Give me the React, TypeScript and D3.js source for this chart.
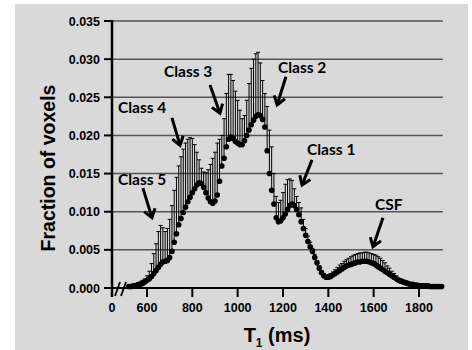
import React from "react";
import * as d3 from "d3";

// T1 grid (ms), 10 ms bins from 520 to 1900
const T1 = d3.range(520, 1901, 10);

// mean fraction of voxels per bin
const MEAN = [
  0.0002, 0.0002, 0.0003, 0.0003, 0.0004, 0.0005, 0.0006, 0.0008, 0.0010, 0.0012,
  0.0015, 0.0019, 0.0023, 0.0027, 0.0031, 0.0034, 0.0035, 0.0036, 0.0040, 0.0048,
  0.0060, 0.0071, 0.0083, 0.0091, 0.0099, 0.0106, 0.0113, 0.0119, 0.0125, 0.0130,
  0.0135, 0.0138, 0.0137, 0.0132, 0.0125, 0.0118, 0.0113, 0.0111, 0.0114, 0.0122,
  0.0140, 0.0160, 0.0170, 0.0185, 0.0195, 0.0198, 0.0196, 0.0192, 0.0190, 0.0188,
  0.0188, 0.0193, 0.0200, 0.0207, 0.0214, 0.0220, 0.0225, 0.0227, 0.0226, 0.0221,
  0.0211, 0.0180, 0.0150, 0.0128, 0.0110, 0.0092, 0.0087, 0.0088, 0.0092, 0.0097,
  0.0103, 0.0108, 0.0110, 0.0108, 0.0103, 0.0096, 0.0087, 0.0078, 0.0069, 0.0061,
  0.0054, 0.0048, 0.0040, 0.0033, 0.0026, 0.0020, 0.0016, 0.0014, 0.0014, 0.0015,
  0.0017, 0.0019, 0.0021, 0.0023, 0.0025, 0.0027, 0.0029, 0.0030, 0.0031, 0.0032,
  0.0033, 0.0034, 0.0034, 0.0035, 0.0035, 0.0035, 0.0034, 0.0033, 0.0032, 0.0030,
  0.0028, 0.0026, 0.0024, 0.0022, 0.0020, 0.0018, 0.0016, 0.0014, 0.0012, 0.0010,
  0.0009, 0.0008, 0.0007, 0.0006, 0.0005, 0.0005, 0.0004, 0.0004, 0.0003, 0.0003,
  0.0003, 0.0003, 0.0003, 0.0002, 0.0002, 0.0002, 0.0002, 0.0002, 0.0002,
];

// standard deviation (upper error bar) per bin
const SD = [
  0.0002, 0.0002, 0.0002, 0.0003, 0.0003, 0.0003, 0.0004, 0.0004, 0.0006, 0.0010,
  0.0017, 0.0026, 0.0035, 0.0047, 0.0051, 0.0045, 0.0039, 0.0042, 0.0050, 0.0060,
  0.0068, 0.0074, 0.0077, 0.0081, 0.0083, 0.0084, 0.0082, 0.0078, 0.0071, 0.0058,
  0.0043, 0.0030, 0.0020, 0.0020, 0.0026, 0.0037, 0.0049, 0.0059, 0.0064, 0.0068,
  0.0055, 0.0040, 0.0052, 0.0070, 0.0085, 0.0082, 0.0076, 0.0066, 0.0056, 0.0045,
  0.0034, 0.0033, 0.0046, 0.0061, 0.0074, 0.0080, 0.0082, 0.0082, 0.0069, 0.0051,
  0.0044, 0.0058, 0.0057, 0.0057, 0.0040, 0.0028, 0.0025, 0.0027, 0.0033, 0.0039,
  0.0039, 0.0035, 0.0031, 0.0022, 0.0017, 0.0016, 0.0018, 0.0012, 0.0009, 0.0007,
  0.0006, 0.0004, 0.0004, 0.0003, 0.0003, 0.0003, 0.0003, 0.0003, 0.0003, 0.0004,
  0.0004, 0.0005, 0.0006, 0.0007, 0.0007, 0.0008, 0.0008, 0.0009, 0.0010, 0.0011,
  0.0011, 0.0011, 0.0012, 0.0011, 0.0012, 0.0012, 0.0012, 0.0012, 0.0012, 0.0013,
  0.0013, 0.0013, 0.0012, 0.0011, 0.0009, 0.0008, 0.0006, 0.0005, 0.0004, 0.0003,
  0.0003, 0.0002, 0.0002, 0.0002, 0.0002, 0.0002, 0.0002, 0.0002, 0.0002, 0.0001,
  0.0001, 0.0001, 0.0001, 0.0001, 0.0001, 0.0001, 0.0001, 0.0001, 0.0001,
];

const Y_TICKS = [0, 0.005, 0.01, 0.015, 0.02, 0.025, 0.03, 0.035];
const X_TICKS = [600, 800, 1000, 1200, 1400, 1600, 1800];

// annotation labels: text position, arrow from -> tip (in data units: T1 ms, fraction)
const LABELS = ["Class 5", "Class 4", "Class 3", "Class 2", "Class 1", "CSF"];
const LABEL_POS: [number, number][] = [
  [472, 0.0135], [472, 0.0229], [675, 0.0277], [1178, 0.0282], [1306, 0.0174], [1606, 0.0102],
];
const ARROW_FROM: [number, number][] = [
  [582, 0.0131], [710, 0.0223], [878, 0.0266], [1213, 0.0277], [1328, 0.0168], [1641, 0.0092],
];
const ARROW_TIP: [number, number][] = [
  [622, 0.0092], [746, 0.0187], [922, 0.0229], [1174, 0.0240], [1284, 0.0135], [1597, 0.0054],
];

export default function App() {
  const x = d3.scaleLinear().domain([600, 1800]).range([147, 419]);
  const y = d3.scaleLinear().domain([0, 0.035]).range([288, 21]);
  const axisX = 112;
  const plotRight = x(1905);
  const zeroY = y(0);
  const font = "'Liberation Sans', Arial, sans-serif";
  const labelFont = "Lato, 'Open Sans', sans-serif";

  const arrow = (i: number) => {
    const [x1, y1] = [x(ARROW_FROM[i][0]), y(ARROW_FROM[i][1])];
    const [x2, y2] = [x(ARROW_TIP[i][0]), y(ARROW_TIP[i][1])];
    const ang = Math.atan2(y2 - y1, x2 - x1);
    const L = 10;
    const a1 = ang + Math.PI - 0.6;
    const a2 = ang + Math.PI + 0.6;
    const d = `M${x2 + L * Math.cos(a1)},${y2 + L * Math.sin(a1)} L${x2},${y2} L${x2 + L * Math.cos(a2)},${y2 + L * Math.sin(a2)}`;
    return (
      <g key={"a" + i} stroke="#000" fill="none" strokeWidth={3}>
        <line x1={x1} y1={y1} x2={x2 - 1.5 * Math.cos(ang)} y2={y2 - 1.5 * Math.sin(ang)} />
        <path d={d} strokeLinejoin="miter" />
      </g>
    );
  };

  return (
    <svg width={472} height={350} style={{ position: "absolute", left: 0, top: 0 }}>
      <rect x={15} y={4} width={453} height={346} fill="#d9d9d9" />
      {/* gridlines */}
      {Y_TICKS.slice(1).map((v) => (
        <line key={"g" + v} x1={axisX} x2={plotRight} y1={y(v)} y2={y(v)} stroke="#555" strokeWidth={1.5} />
      ))}
      {/* error bars */}
      <g stroke="#000" strokeWidth={1}>
        {T1.map((t, i) => {
          const cx = x(t);
          const top = y(MEAN[i] + SD[i]);
          return (
            <g key={"e" + t}>
              <line x1={cx} x2={cx} y1={y(MEAN[i])} y2={top} />
              <line x1={cx - 2} x2={cx + 2} y1={top} y2={top} />
            </g>
          );
        })}
      </g>
      {/* mean dots */}
      <g fill="#000">
        {T1.map((t, i) => (
          <circle key={"d" + t} cx={x(t)} cy={y(MEAN[i])} r={2.8} />
        ))}
      </g>
      {/* axes */}
      <line x1={axisX} x2={plotRight} y1={zeroY} y2={zeroY} stroke="#000" strokeWidth={2} />
      <line x1={axisX} x2={axisX} y1={y(0.035) - 1} y2={zeroY + 9} stroke="#000" strokeWidth={2.5} />
      {Y_TICKS.map((v) => (
        <g key={"yt" + v}>
          <line x1={axisX - 8} x2={axisX} y1={y(v)} y2={y(v)} stroke="#000" strokeWidth={2} />
          <text x={axisX - 12} y={y(v) + 4.5} textAnchor="end" fontFamily={font} fontWeight="bold" fontSize={12.5} fill="#000">
            {d3.format(".3f")(v)}
          </text>
        </g>
      ))}
      {X_TICKS.map((v) => (
        <g key={"xt" + v}>
          <line x1={x(v)} x2={x(v)} y1={zeroY} y2={zeroY + 9} stroke="#000" strokeWidth={2} />
          <text x={x(v)} y={zeroY + 24} textAnchor="middle" fontFamily={font} fontWeight="bold" fontSize={12.5} fill="#000">
            {v}
          </text>
        </g>
      ))}
      <text x={axisX} y={zeroY + 24} textAnchor="middle" fontFamily={font} fontWeight="bold" fontSize={12.5} fill="#000">
        0
      </text>
      {/* axis break */}
      <g stroke="#000" strokeWidth={1.8}>
        <line x1={115} y1={zeroY + 8} x2={120} y2={zeroY - 6} />
        <line x1={121} y1={zeroY + 8} x2={126} y2={zeroY - 6} />
      </g>
      {/* axis titles */}
      <text transform="translate(55,168) rotate(-90)" textAnchor="middle" fontFamily={font} fontWeight="bold" fontSize={19.5} fill="#000">
        Fraction of voxels
      </text>
      <text x={277} y={342} textAnchor="middle" fontFamily={font} fontWeight="bold" fontSize={20} fill="#000">
        T<tspan fontSize={12} dy={5}>1</tspan>
        <tspan dy={-5}> (ms)</tspan>
      </text>
      {/* annotations */}
      {LABELS.map((s, i) => (
        <text key={"l" + i} x={x(LABEL_POS[i][0])} y={y(LABEL_POS[i][1])} fontFamily={labelFont} fontWeight="bold" fontSize={15.5} fill="#000">
          {s}
        </text>
      ))}
      {LABELS.map((_, i) => arrow(i))}
    </svg>
  );
}
